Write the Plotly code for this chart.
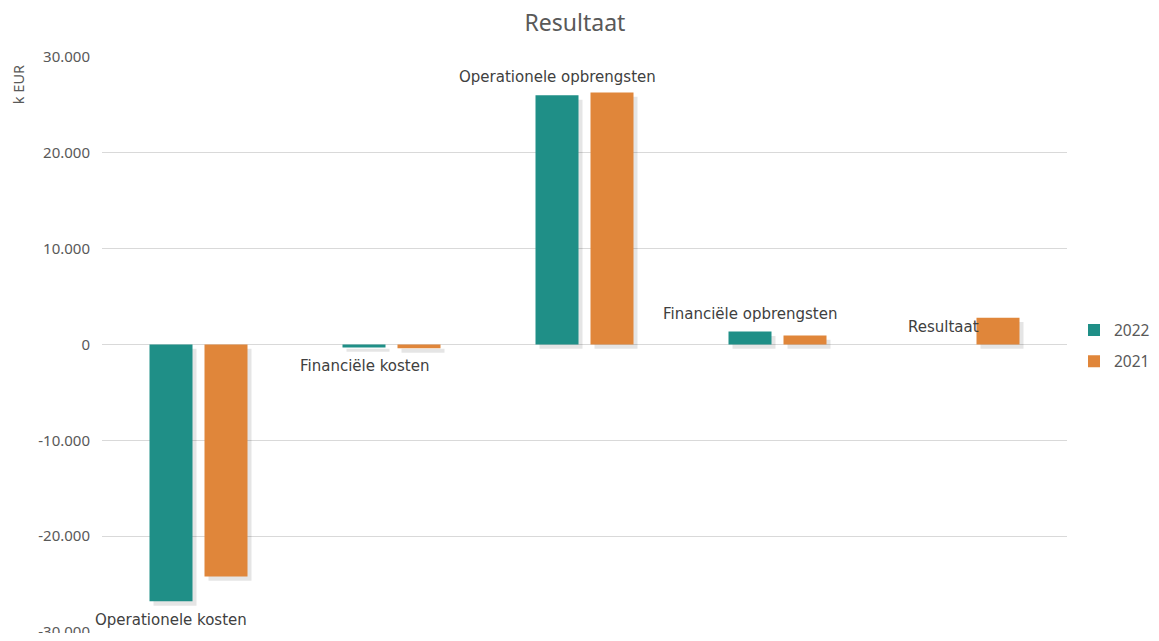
import plotly.graph_objects as go

categories = ["Operationele kosten", "Financiële kosten", "Operationele opbrengsten",
              "Financiële opbrengsten", "Resultaat"]
series_names = ["2022", "2021"]
values_2022 = [-26800, -300, 26000, 1350, 0]
values_2021 = [-24200, -400, 26300, 950, 2800]
tick_vals = [-30000, -20000, -10000, 0, 10000, 20000, 30000]
tick_text = ["-30.000", "-20.000", "-10.000", "0", "10.000", "20.000", "30.000"]

colors = ["#1f8f87", "#e0863a"]
FONT = "Noto Sans"
LABEL_FONT = "DejaVu Sans"
TXT = "#595959"

W, H = 1143, 625  # page body adds 8px margins
ML, MT, MR, MB = 94, 49, 84, 1
cat_px = (W - ML - MR) / 5
bar_w = 43 / cat_px
offsets = [-49 / cat_px, 6 / cat_px]
shadow_dx = 4 / cat_px

fig = go.Figure()
series = [values_2022, values_2021]
# soft shadows behind bars
for vals, off in zip(series, offsets):
    fig.add_trace(go.Bar(
        x=categories, y=vals, base=-450, width=bar_w, offset=off + shadow_dx,
        marker=dict(color="rgba(0,0,0,0.10)", line=dict(width=0)),
        showlegend=False, hoverinfo="skip"))
for name, vals, off, col in zip(series_names, series, offsets, colors):
    fig.add_trace(go.Bar(
        x=categories, y=vals, name=name, width=bar_w, offset=off,
        legendgroup=name,
        marker=dict(color=col, line=dict(width=0))))

for cat, v in zip(categories, values_2022):
    pos = v >= 0
    fig.add_annotation(
        x=cat, y=v, text=cat, showarrow=False,
        xshift=(offsets[0] + bar_w / 2) * cat_px,
        yanchor="bottom" if pos else "top",
        yshift=7 if pos else -8,
        font=dict(family=LABEL_FONT, size=15, color="#404040"))

fig.add_annotation(
    xref="paper", yref="paper", x=-84 / cat_px / 5, y=0.951, text="k EUR",
    textangle=-90, xanchor="center", yanchor="middle",
    showarrow=False, font=dict(family=FONT, size=14.5, color=TXT))

fig.update_layout(
    width=W, height=H,
    barmode="overlay",
    paper_bgcolor="white", plot_bgcolor="white",
    margin=dict(l=ML, r=MR, t=MT, b=MB),
    title=dict(text="Resultaat", x=0.496, xanchor="center", y=1 - 15 / H, yanchor="middle",
               font=dict(family=FONT, size=23, color=TXT)),
    xaxis=dict(showticklabels=False, showgrid=False, zeroline=False, showline=False,
               range=[-0.5, 4.5]),
    yaxis=dict(range=[-30000, 30000], tickvals=tick_vals, ticktext=tick_text,
               showgrid=True, gridcolor="#d9d9d9", gridwidth=1, zeroline=True,
               zerolinecolor="#d9d9d9", zerolinewidth=1, showline=False,
               automargin=False, ticklabelstandoff=11, ticklabeloverflow="allow",
               tickfont=dict(family=FONT, size=15, color=TXT)),
    legend=dict(xref="container", yref="container", x=1066 / W, y=1 - 338 / H,
                xanchor="left", yanchor="middle",
                font=dict(family=FONT, size=15.5, color=TXT),
                itemwidth=30, tracegroupgap=8),
    font=dict(family=FONT, color=TXT),
)

fig.write_html("out.html")
